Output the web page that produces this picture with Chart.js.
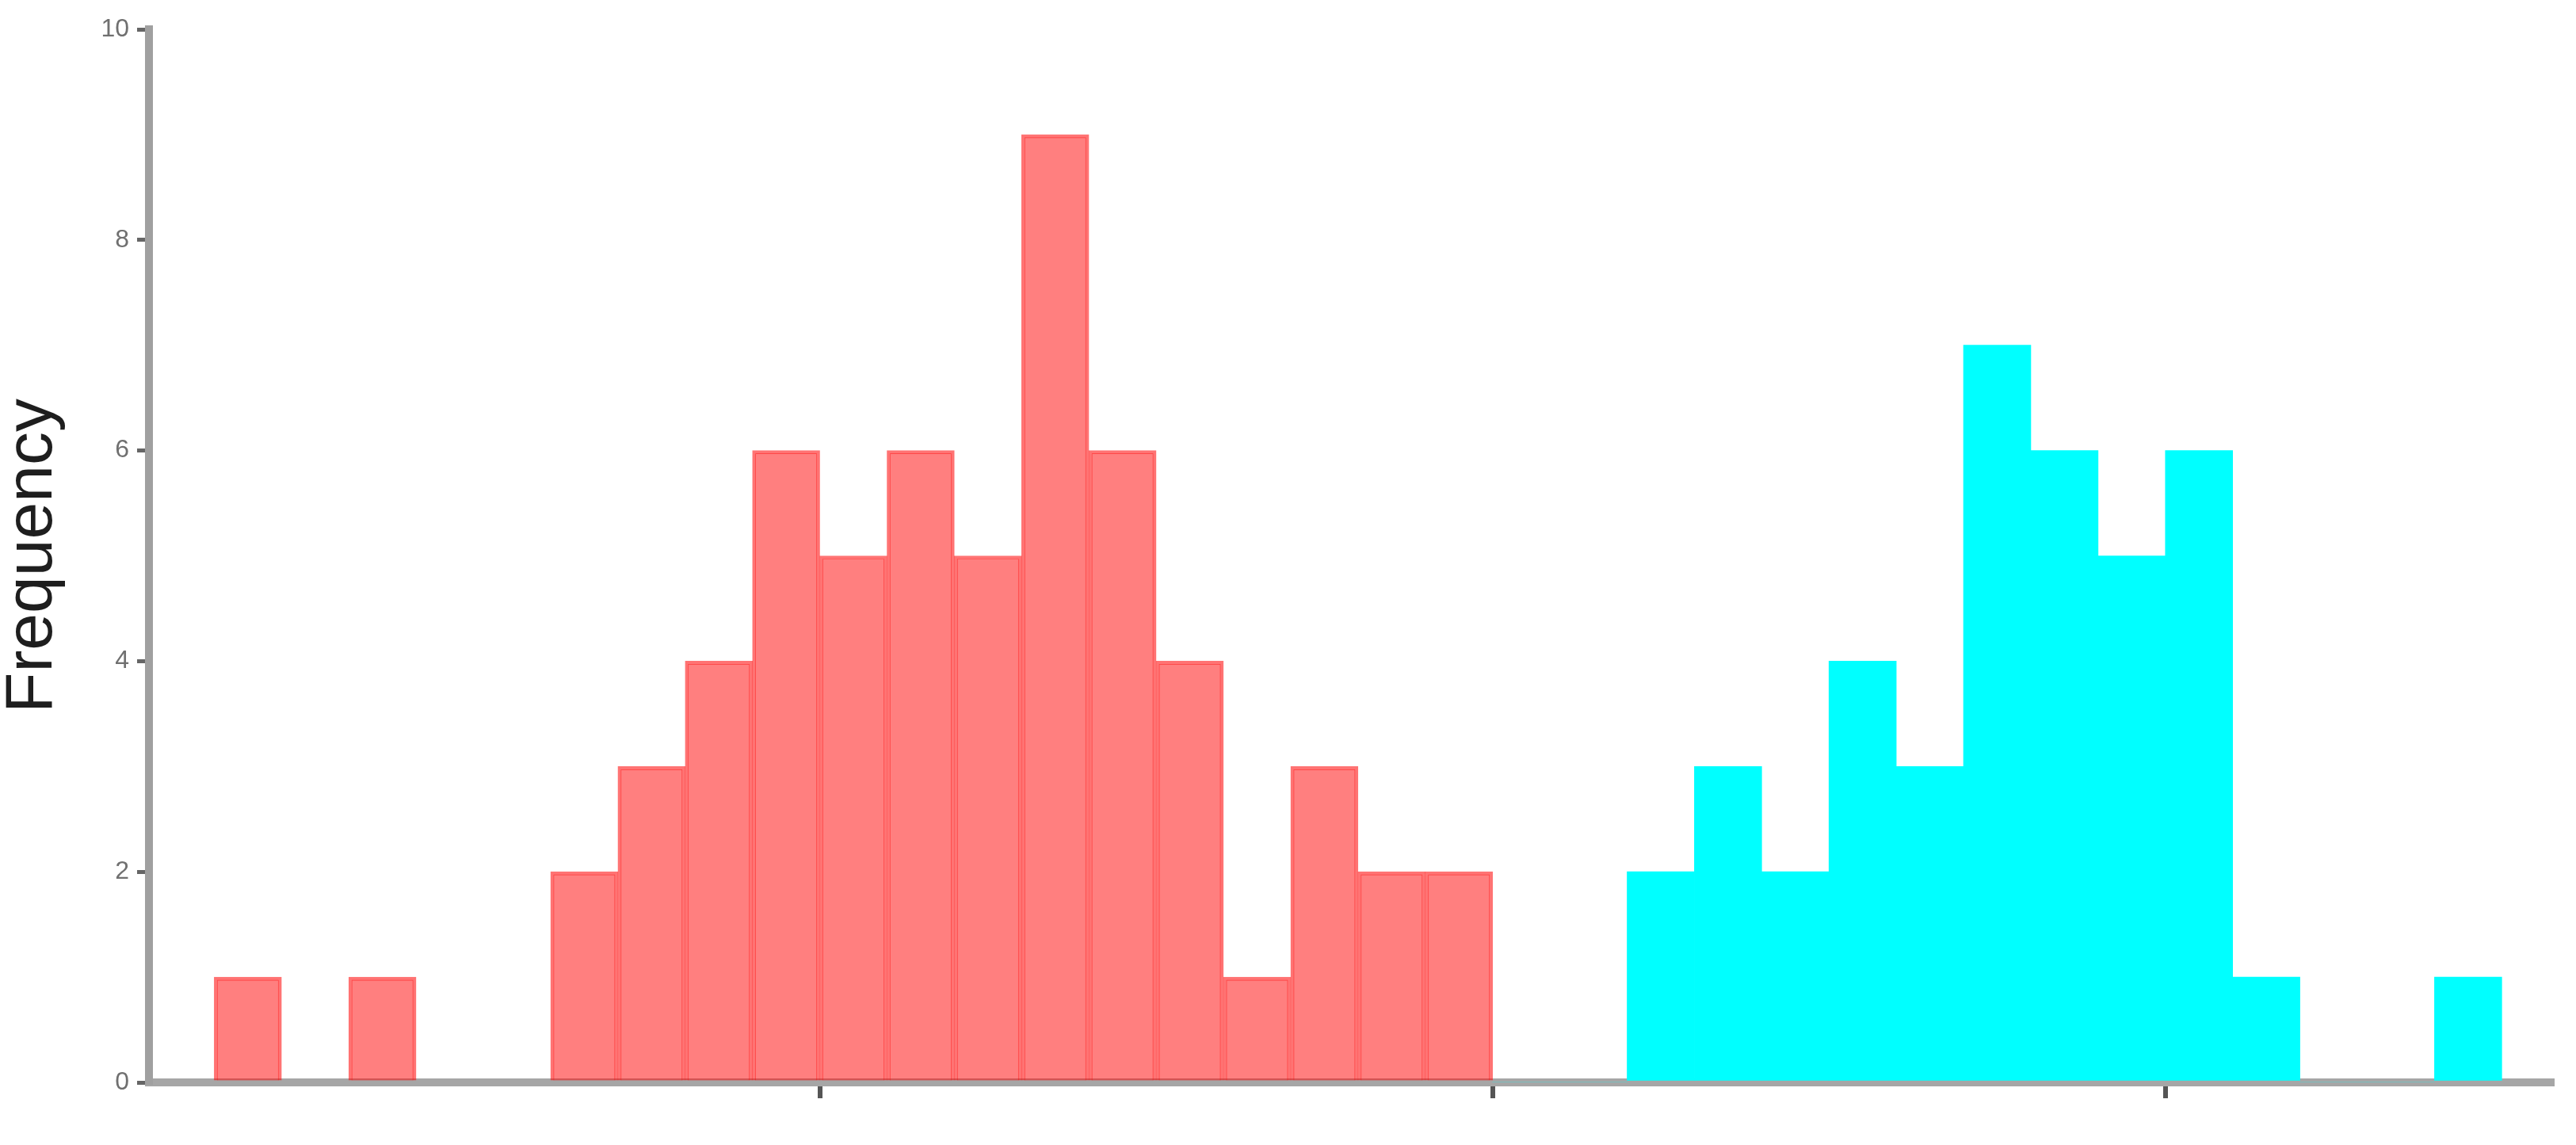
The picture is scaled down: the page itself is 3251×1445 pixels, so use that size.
<!DOCTYPE html>
<html>
<head>
<meta charset="utf-8">
<title>Frequency histogram</title>
<script src="https://cdn.jsdelivr.net/npm/chart.js@4.4.1/dist/chart.umd.min.js"></script>
<style>
    html, body { margin: 0; padding: 0; background: #fff; }
    #wrap { width: 3251px; height: 1445px; position: relative; }
</style>
</head>
<body>
<div id="wrap"><canvas id="histChart"></canvas></div>
<script>
// pocty v jednotlivych triedach (triedy 0-18 cervene, 19-33 tyrkysove)
const redCounts = [1, 0, 1, 0, 0, 2, 3, 4, 6, 5, 6, 5, 9, 6, 4, 1, 3, 2, 2];
const cyanCounts = [0, 0, 2, 3, 2, 4, 3, 7, 6, 5, 6, 1, 0, 0, 1];
const cyanFirstBin = 19;

// znacky na osiach
const xTicks = [9, 19, 29];
const yTicks = [0, 2, 4, 6, 8, 10];
const yTitle = 'Frequency';

// body pre linearnu os x - stred kazdej triedy
const redPoints = redCounts.map((v, i) => ({ x: i + 0.5, y: v }));
const cyanPoints = cyanCounts.map((v, i) => ({ x: cyanFirstBin + i + 0.5, y: v }));

const ctx = document.getElementById('histChart').getContext('2d');

new Chart(ctx, {
    type: 'bar',
    data: {
        datasets: [
            {
                label: 'red',
                data: redPoints,
                backgroundColor: 'rgba(255, 0, 0, 0.5)',
                borderColor: 'rgba(255, 0, 0, 0.55)',
                borderWidth: 4,
                borderSkipped: 'start',
                grouped: false,
                barPercentage: 1,
                categoryPercentage: 1
            },
            {
                label: 'cyan',
                data: cyanPoints,
                backgroundColor: '#00ffff',
                borderWidth: 0,
                grouped: false,
                barPercentage: 1,
                categoryPercentage: 1
            }
        ]
    },
    options: {
        responsive: true,
        maintainAspectRatio: false,
        devicePixelRatio: 1,
        animation: false,
        layout: {
            padding: { top: 37, right: 30, left: 0, bottom: 0 }
        },
        plugins: {
            legend: { display: false },
            tooltip: { enabled: false }
        },
        scales: {
            x: {
                type: 'linear',
                offset: false,
                min: -0.97,
                max: 34.75,
                afterBuildTicks: (axis) => {
                    axis.ticks = xTicks.map(v => ({ value: v }));
                },
                afterFit: (scale) => {
                    scale.height = 79;
                },
                ticks: {
                    callback: () => ''
                },
                grid: {
                    offset: false,
                    drawOnChartArea: false,
                    drawTicks: true,
                    tickLength: 20,
                    color: '#555',
                    lineWidth: 6
                },
                border: {
                    display: true,
                    color: '#a6a6a6',
                    width: 10
                }
            },
            y: {
                min: 0,
                max: 10,
                afterBuildTicks: (axis) => {
                    axis.ticks = yTicks.map(v => ({ value: v }));
                },
                afterFit: (scale) => {
                    scale.width = 188;
                },
                ticks: {
                    color: '#707070',
                    padding: 10,
                    font: { family: "'Liberation Sans', Arial, sans-serif", size: 32 }
                },
                grid: {
                    drawOnChartArea: false,
                    drawTicks: true,
                    tickLength: 15,
                    color: '#666',
                    lineWidth: 5
                },
                border: {
                    display: true,
                    color: '#a0a0a0',
                    width: 10
                },
                title: {
                    display: true,
                    text: yTitle,
                    color: '#1e1e1e',
                    padding: 0,
                    font: { family: "'Liberation Sans', Arial, sans-serif", size: 84, lineHeight: 1 }
                }
            }
        }
    }
});
</script>
</body>
</html>
